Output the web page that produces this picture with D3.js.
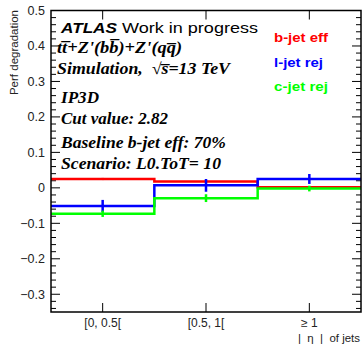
<!DOCTYPE html>
<html><head><meta charset="utf-8">
<script src="https://cdn.jsdelivr.net/npm/d3@7"></script>
<style>html,body{margin:0;padding:0;background:#fff}svg{display:block}text{white-space:pre}</style>
</head><body>
<svg id="c" width="363" height="351"></svg>
<script>
const categories = ["[0, 0.5[", "[0.5, 1[", "\u2265 1"];
const bEff = [0.025, 0.018, 0.002];
const bEffErr = [0.003, 0.003, 0.003];
const lRej = [-0.051, 0.007, 0.025];
const lRejErr = [0.017, 0.018, 0.014];
const cRej = [-0.073, -0.029, -0.002];
const cRejErr = [0.009, 0.011, 0.008];
const yMajorTicks = [-0.3, -0.2, -0.1, 0, 0.1, 0.2, 0.3, 0.4, 0.5];
const seriesNames = ["b-jet eff", "l-jet rej", "c-jet rej"];
const seriesColors = ["#ff0000", "#0000ff", "#00ff00"];

const svg = d3.select("#c");
const L = 51, R = 361, T = 10.5, B = 312;
const x = d3.scaleBand().domain(categories).range([L, R]).padding(0);
const y = d3.scaleLinear().domain([-0.35, 0.5]).range([B, T]);
const sans = "'Liberation Sans', Arial, sans-serif";
const serif = "'Liberation Serif', 'Times New Roman', serif";

// minor ticks
const minor = d3.range(-0.34, 0.5001, 0.02).map(v => +v.toFixed(2)).filter(v => Math.abs(Math.round(v*10) - v*10) > 1e-6);
const ax = svg.append("g").attr("stroke", "#000").attr("stroke-width", 1);
minor.forEach(v => {
  ax.append("line").attr("x1", L).attr("x2", L + 5).attr("y1", y(v)).attr("y2", y(v));
  ax.append("line").attr("x1", R).attr("x2", R - 5).attr("y1", y(v)).attr("y2", y(v));
});
yMajorTicks.forEach(v => {
  ax.append("line").attr("x1", L).attr("x2", L + 9).attr("y1", y(v)).attr("y2", y(v));
  ax.append("line").attr("x1", R).attr("x2", R - 9).attr("y1", y(v)).attr("y2", y(v));
});
categories.forEach(c => {
  const cx = x(c) + x.bandwidth() / 2;
  ax.append("line").attr("x1", cx).attr("x2", cx).attr("y1", B).attr("y2", B - 9);
  ax.append("line").attr("x1", cx).attr("x2", cx).attr("y1", T).attr("y2", T + 9);
});

// tick labels
const fmt = d => d === 0 ? "0" : d3.format(".1f")(d);
svg.append("g").selectAll("text").data(yMajorTicks).join("text")
  .attr("x", 45).attr("y", d => y(d) + 4.5).attr("text-anchor", "end")
  .attr("font-family", sans).attr("font-size", 12.5).attr("fill", "#222").text(fmt);
svg.append("g").selectAll("text").data(categories).join("text")
  .attr("x", d => x(d) + x.bandwidth() / 2).attr("y", 327).attr("text-anchor", "middle")
  .attr("font-family", sans).attr("font-size", 12).attr("fill", "#222").text(d => d);

// axis titles
svg.append("text").attr("transform", "translate(18,10) rotate(-90)").attr("text-anchor", "end")
  .attr("font-family", sans).attr("font-size", 11.5).attr("fill", "#222").text("Perf degradation");
svg.append("text").attr("x", 298).attr("y", 342)
  .attr("font-family", sans).attr("font-size", 11).attr("fill", "#222")
  .attr("textLength", 62).attr("lengthAdjust", "spacingAndGlyphs").text("|  \u03b7  |  of jets");

// series
const series = [[bEff, bEffErr], [lRej, lRejErr], [cRej, cRejErr]];
series.forEach(([vals, errs], i) => {
  let d = "";
  categories.forEach((c, k) => {
    const x0 = x(c), x1 = x(c) + x.bandwidth();
    d += (k === 0 ? "M" : "L") + x0 + "," + y(vals[k]) + "L" + x1 + "," + y(vals[k]);
  });
  svg.append("path").attr("d", d).attr("fill", "none").attr("stroke", seriesColors[i]).attr("stroke-width", 2.5);
  svg.append("g").selectAll("line").data(categories).join("line")
    .attr("x1", c => x(c) + x.bandwidth() / 2).attr("x2", c => x(c) + x.bandwidth() / 2)
    .attr("y1", (c, k) => y(vals[k] - errs[k])).attr("y2", (c, k) => y(vals[k] + errs[k]))
    .attr("stroke", seriesColors[i]).attr("stroke-width", 2.5);
});

// frame
svg.append("rect").attr("x", L).attr("y", T).attr("width", R - L).attr("height", B - T)
  .attr("fill", "none").attr("stroke", "#000").attr("stroke-width", 1.5);

// labels
svg.append("text").attr("x", 61).attr("y", 33).attr("font-family", sans).attr("font-size", 15)
  .attr("font-weight", "bold").attr("font-style", "italic").attr("textLength", 56).attr("lengthAdjust", "spacingAndGlyphs").text("ATLAS");
svg.append("text").attr("x", 122).attr("y", 33).attr("font-family", sans).attr("font-size", 15)
  .attr("textLength", 136).attr("lengthAdjust", "spacingAndGlyphs").text("Work in progress");
const serifLines = [
  ["tt\u0305+Z'(bb\u0305)+Z'(qq\u0305)", 53, 57, 125],
  ["Simulation,  \u221as\u0305=13 TeV", 74, 57, 173],
  ["IP3D", 103, 61, 38],
  ["Cut value: 2.82", 124, 61, 107],
  ["Baseline b-jet eff: 70%", 148, 61, 165],
  ["Scenario: L0.ToT= 10", 169, 61, 160]
];
serifLines.forEach(([t, yy, xx, w]) => {
  svg.append("text").attr("x", xx).attr("y", yy).attr("font-family", serif).attr("font-size", 16.5)
    .attr("font-weight", "bold").attr("font-style", "italic")
    .attr("textLength", w).attr("lengthAdjust", "spacingAndGlyphs").text(t);
});
const legY = [42, 67, 91];
const legW = [54, 49, 54];
seriesNames.forEach((n, i) => {
  svg.append("text").attr("x", 274).attr("y", legY[i]).attr("font-family", sans).attr("font-size", 13)
    .attr("font-weight", "bold").attr("fill", seriesColors[i])
    .attr("textLength", legW[i]).attr("lengthAdjust", "spacingAndGlyphs").text(n);
});
</script>
</body></html>
